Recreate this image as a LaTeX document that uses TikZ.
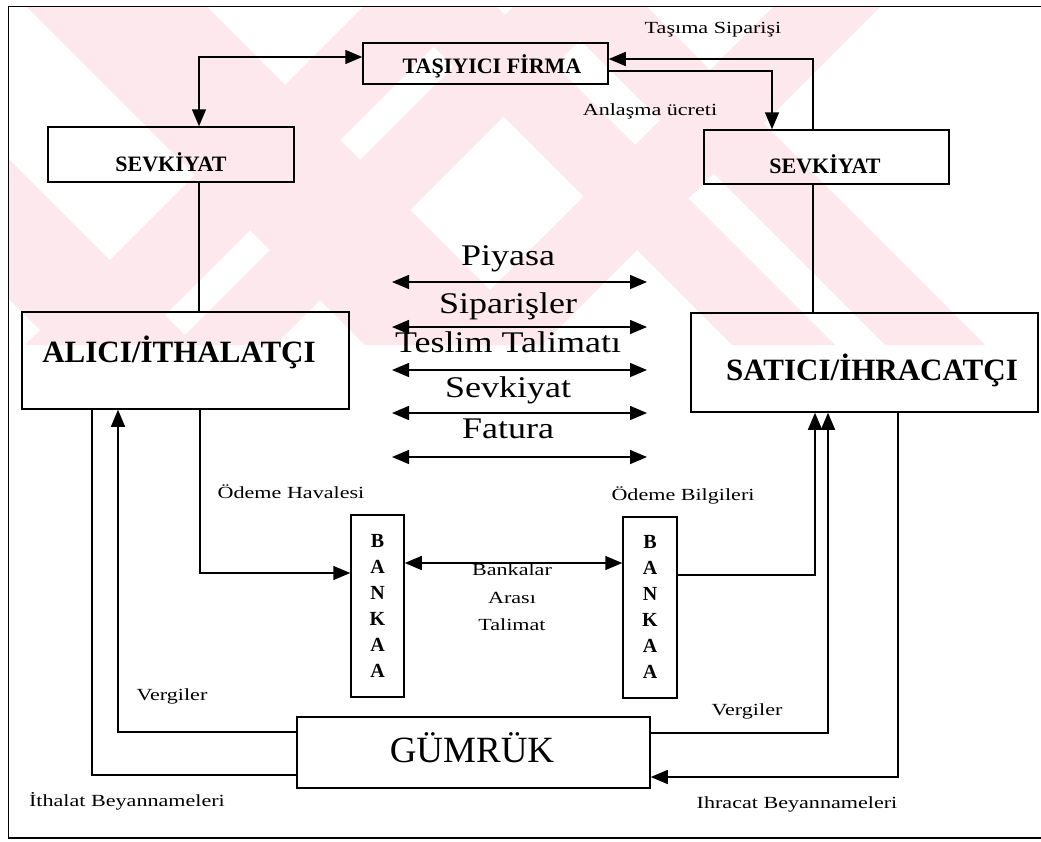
\documentclass[tikz,border=0pt]{standalone}
\usepackage{fontspec}
\setmainfont{Liberation Serif}
\newfontfamily\lblfont{Liberation Serif}[FakeStretch=1.3]
\newfontfamily\midfont{Liberation Serif}[FakeStretch=1.2]
\usetikzlibrary{arrows.meta,calc}
\definecolor{wmpink}{RGB}{253,233,237}
\tikzset{
  box/.style={draw, line width=1.5pt, inner sep=0pt},
  conn/.style={line width=1.5pt},
  tip/.style={arrows={-Triangle[length=17pt,width=14pt]}},
  dbl/.style={arrows={Triangle[length=17pt,width=14pt]-Triangle[length=17pt,width=14pt]}},
  lbl/.style={anchor=base, inner sep=0pt, font=\lblfont\fontsize{17}{20}\selectfont},
  mid/.style={anchor=base, inner sep=0pt, font=\midfont\fontsize{30}{34}\selectfont},
  bt/.style={anchor=base, inner sep=0pt, font=\bfseries\fontsize{22}{24}\selectfont},
  bigbt/.style={anchor=base, inner sep=0pt, font=\bfseries\fontsize{31}{34}\selectfont},
  bankl/.style={anchor=base, inner sep=0pt, font=\bfseries\fontsize{20}{22}\selectfont}
}
\begin{document}
\begin{tikzpicture}[x=1pt,y=-1pt]
\useasboundingbox (0,0) rectangle (1041,841);
% watermark
\begin{scope}
\clip (9,7) rectangle (1005,345);
\foreach \a/\b in {-290/-150,20/200,387/490,540/640}
  \fill[wmpink] (\a+7,7) -- (\b+7,7) -- (\b+345,345) -- (\a+345,345) -- cycle;
\foreach \a/\b in {370/480,520/620,780/887}
  \fill[wmpink] (\a-7,7) -- (\b-7,7) -- (\b-345,345) -- (\a-345,345) -- cycle;
\end{scope}
% frame
\draw[line width=1.5pt] (1041,6.5) -- (8.5,6.5) -- (8.5,838) -- (1041,838);
% boxes
\node[box, minimum width=245pt, minimum height=41pt] (tf) at (485.5,63.5) {};
\node[box, minimum width=246pt, minimum height=55pt] (ls) at (171,154.5) {};
\node[box, minimum width=245pt, minimum height=54pt] (rs) at (826.5,157) {};
\node[box, minimum width=327pt, minimum height=97pt] (al) at (185.5,360.5) {};
\node[box, minimum width=347pt, minimum height=99pt] (sa) at (864.5,362.5) {};
\node[box, minimum width=53pt, minimum height=182pt] (bl) at (377.5,606) {};
\node[box, minimum width=54pt, minimum height=181pt] (br) at (650,607.5) {};
\node[box, minimum width=353pt, minimum height=71pt] (gm) at (473.5,752.5) {};
% box texts
\node[bt] (tft) at (492,73) {TAŞIYICI FİRMA};
\node[bt] (lst) at (171,171) {SEVKİYAT};
\node[bt] (rst) at (825,173) {SEVKİYAT};
\node[bigbt] (alt) at (179,362) {ALICI/İTHALATÇI};
\node[bigbt] (sat) at (872,380) {SATICI/İHRACATÇI};
\node[anchor=base, inner sep=0pt, font=\fontsize{37}{40}\selectfont] (gmt) at (472,762) {GÜMRÜK};
\foreach \l [count=\i] in {B,A,N,K,A,A}
  \node[bankl] (blt\i) at (377.5,521+26*\i) {\l};
\foreach \l [count=\i] in {B,A,N,K,A,A}
  \node[bankl] (brt\i) at (650,522+26*\i) {\l};
% central labels and arrows
\node[mid] (m1) at (508,265) {Piyasa};
\node[mid] (m2) at (508,313) {Siparişler};
\node[mid] (m3) at (508,352) {Teslim Talimatı};
\node[mid] (m4) at (508,397) {Sevkiyat};
\node[mid] (m5) at (508,438) {Fatura};
\foreach \y [count=\i] in {282,327,370,413,457} {
  \coordinate (pl\i) at (392,\y);
  \coordinate (pr\i) at (647,\y);
  \draw[conn,dbl] (pl\i) -- (pr\i);
}
% small labels
\node[lbl] (l1) at (713,33) {Taşıma Siparişi};
\node[lbl] (l2) at (650,115) {Anlaşma ücreti};
\node[lbl] (l3) at (291,498) {Ödeme Havalesi};
\node[lbl] (l4) at (683,500) {Ödeme Bilgileri};
\node[lbl] (l5) at (512,575) {Bankalar};
\node[lbl] (l6) at (512,603) {Arası};
\node[lbl] (l7) at (512,630) {Talimat};
\node[lbl] (l8) at (172,700) {Vergiler};
\node[lbl] (l9) at (747,715) {Vergiler};
\node[lbl] (l10) at (127,806) {İthalat Beyannameleri};
\node[lbl] (l11) at (797,808) {Ihracat Beyannameleri};
% connectors
\coordinate (a1) at ($(ls.north)+(28,0)$);
\coordinate (a2) at ($(tf.west)+(0,-6.5)$);
\draw[conn,dbl] (a1) |- (a2);
\coordinate (b1) at ($(rs.north)+(-13.5,0)$);
\coordinate (b2) at ($(tf.east)+(0,-4.5)$);
\draw[conn,tip] (b1) |- (b2);
\coordinate (b3) at ($(tf.east)+(0,7.5)$);
\coordinate (b4) at ($(rs.north)+(-54.5,0)$);
\draw[conn,tip] (b3) -| (b4);
\coordinate (c1) at ($(ls.south)+(28,0)$);
\draw[conn] (c1) -- (c1 |- al.north);
\coordinate (c2) at ($(rs.south)+(-13.5,0)$);
\draw[conn] (c2) -- (c2 |- sa.north);
\coordinate (d1) at ($(al.south)+(14.5,0)$);
\coordinate (d2) at ($(bl.west)+(0,-33)$);
\draw[conn,tip] (d1) |- (d2);
\coordinate (e1) at ($(bl.east)+(0,-43)$);
\draw[conn,dbl] (e1) -- (e1 -| br.west);
\coordinate (f1) at ($(br.east)+(0,-32.5)$);
\coordinate (f2) at ($(sa.south)+(-49.5,0)$);
\draw[conn,tip] (f1) -| (f2);
\coordinate (g1) at ($(gm.east)+(0,-19.5)$);
\coordinate (g2) at ($(sa.south)+(-36.5,0)$);
\draw[conn,tip] (g1) -| (g2);
\coordinate (h1) at ($(sa.south)+(33.5,0)$);
\coordinate (h2) at ($(gm.east)+(0,24.5)$);
\draw[conn,tip] (h1) |- (h2);
\coordinate (i1) at ($(gm.west)+(0,-20.5)$);
\coordinate (i2) at ($(al.south)+(-67.5,0)$);
\draw[conn,tip] (i1) -| (i2);
\coordinate (j1) at ($(al.south)+(-93.5,0)$);
\coordinate (j2) at ($(gm.west)+(0,22.5)$);
\draw[conn] (j1) |- (j2);
\end{tikzpicture}
\end{document}
